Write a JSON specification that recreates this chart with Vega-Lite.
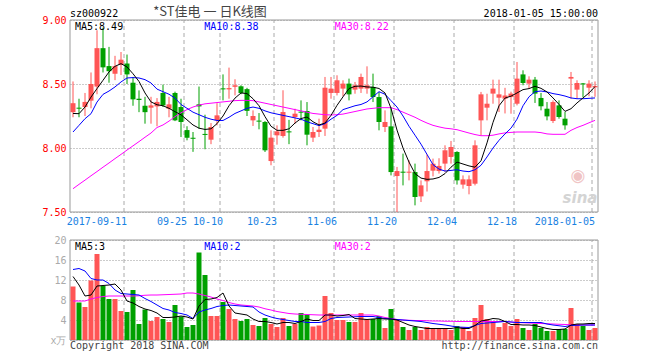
{
  "$schema": "https://vega.github.io/schema/vega-lite/v6.json",
  "width": 528,
  "height": 320,
  "autosize": {"type": "none"},
  "padding": {"left": 70, "top": 20, "right": 62, "bottom": 20},
  "background": "white",
  "config": {"view": {"stroke": null}, "font": "DejaVu Sans Mono"},
  "datasets": {
    "k": [
      {"d":"2017-08-29","o":8.28,"h":8.52,"l":8.24,"c":8.35,"v":10.7,"m5":8.27,"m10":8.125,"m30":7.682,"v5":12.7,"v10":14.1,"v30":7.8},
      {"d":"2017-08-30","o":8.315,"h":8.385,"l":8.24,"c":8.307,"v":7.5,"m5":8.268,"m10":8.177,"m30":7.716,"v5":11.0,"v10":14.3,"v30":7.8},
      {"d":"2017-08-31","o":8.32,"h":8.43,"l":8.25,"c":8.36,"v":6.6,"m5":8.32,"m10":8.229,"m30":7.749,"v5":8.8,"v10":13.8,"v30":7.8},
      {"d":"2017-09-01","o":8.37,"h":8.59,"l":8.31,"c":8.5,"v":11.9,"m5":8.398,"m10":8.268,"m30":7.783,"v5":9.0,"v10":12.3,"v30":8.2},
      {"d":"2017-09-04","o":8.48,"h":8.92,"l":8.42,"c":8.78,"v":17.2,"m5":8.464,"m10":8.359,"m30":7.816,"v5":10.8,"v10":12.0,"v30":8.5},
      {"d":"2017-09-05","o":8.78,"h":8.94,"l":8.59,"c":8.63,"v":10.8,"m5":8.529,"m10":8.419,"m30":7.85,"v5":10.9,"v10":12.0,"v30":8.7},
      {"d":"2017-09-06","o":8.64,"h":8.79,"l":8.51,"c":8.6,"v":8.2,"m5":8.594,"m10":8.445,"m30":7.883,"v5":11.0,"v10":11.3,"v30":8.8},
      {"d":"2017-09-07","o":8.58,"h":8.72,"l":8.53,"c":8.64,"v":8.2,"m5":8.638,"m10":8.477,"m30":7.917,"v5":11.2,"v10":10.0,"v30":8.8},
      {"d":"2017-09-08","o":8.65,"h":8.75,"l":8.57,"c":8.69,"v":5.8,"m5":8.659,"m10":8.516,"m30":7.95,"v5":10.0,"v10":9.3,"v30":8.8},
      {"d":"2017-09-11","o":8.66,"h":8.73,"l":8.5,"c":8.575,"v":5.6,"m5":8.633,"m10":8.547,"m30":7.984,"v5":7.8,"v10":9.2,"v30":8.8},
      {"d":"2017-09-12","o":8.51,"h":8.555,"l":8.33,"c":8.38,"v":10.0,"m5":8.58,"m10":8.55,"m30":8.017,"v5":7.4,"v10":9.1,"v30":8.8},
      {"d":"2017-09-13","o":8.385,"h":8.45,"l":8.28,"c":8.375,"v":3.2,"m5":8.52,"m10":8.547,"m30":8.05,"v5":6.7,"v10":9.0,"v30":8.85},
      {"d":"2017-09-14","o":8.33,"h":8.4,"l":8.19,"c":8.28,"v":6.1,"m5":8.43,"m10":8.534,"m30":8.084,"v5":6.2,"v10":8.3,"v30":8.95},
      {"d":"2017-09-15","o":8.315,"h":8.4,"l":8.19,"c":8.333,"v":3.8,"m5":8.36,"m10":8.508,"m30":8.117,"v5":5.9,"v10":7.7,"v30":9.0},
      {"d":"2017-09-18","o":8.325,"h":8.39,"l":8.17,"c":8.36,"v":4.6,"m5":8.338,"m10":8.46,"m30":8.16,"v5":5.4,"v10":7.0,"v30":9.0},
      {"d":"2017-09-19","o":8.43,"h":8.495,"l":8.32,"c":8.333,"v":4.2,"m5":8.33,"m10":8.44,"m30":8.18,"v5":4.5,"v10":6.3,"v30":9.05},
      {"d":"2017-09-20","o":8.307,"h":8.4,"l":8.24,"c":8.341,"v":3.6,"m5":8.31,"m10":8.42,"m30":8.21,"v5":4.5,"v10":6.0,"v30":9.1},
      {"d":"2017-09-21","o":8.43,"h":8.44,"l":8.21,"c":8.216,"v":7.0,"m5":8.284,"m10":8.39,"m30":8.245,"v5":4.6,"v10":5.5,"v30":9.15},
      {"d":"2017-09-22","o":8.32,"h":8.385,"l":8.086,"c":8.203,"v":4.7,"m5":8.26,"m10":8.34,"m30":8.275,"v5":4.8,"v10":5.3,"v30":9.2},
      {"d":"2017-09-25","o":8.14,"h":8.17,"l":8.06,"c":8.08,"v":2.6,"m5":8.22,"m10":8.31,"m30":8.3,"v5":4.6,"v10":5.0,"v30":9.4},
      {"d":"2017-09-26","o":8.08,"h":8.125,"l":7.97,"c":8.072,"v":3.0,"m5":8.18,"m10":8.28,"m30":8.32,"v5":4.2,"v10":4.3,"v30":9.4},
      {"d":"2017-09-27","o":8.341,"h":8.48,"l":8.15,"c":8.325,"v":17.5,"m5":8.155,"m10":8.26,"m30":8.335,"v5":6.8,"v10":5.6,"v30":9.2},
      {"d":"2017-09-28","o":8.11,"h":8.26,"l":7.99,"c":8.102,"v":13.0,"m5":8.145,"m10":8.24,"m30":8.345,"v5":8.1,"v10":6.0,"v30":8.9},
      {"d":"2017-09-29","o":8.065,"h":8.195,"l":8.03,"c":8.164,"v":4.8,"m5":8.15,"m10":8.225,"m30":8.35,"v5":8.2,"v10":6.3,"v30":8.6},
      {"d":"2017-10-09","o":8.216,"h":8.35,"l":8.177,"c":8.255,"v":4.8,"m5":8.19,"m10":8.215,"m30":8.355,"v5":8.5,"v10":6.7,"v30":8.2},
      {"d":"2017-10-10","o":8.466,"h":8.575,"l":8.372,"c":8.458,"v":7.6,"m5":8.25,"m10":8.215,"m30":8.36,"v5":9.4,"v10":6.9,"v30":7.9},
      {"d":"2017-10-11","o":8.458,"h":8.628,"l":8.385,"c":8.468,"v":6.2,"m5":8.33,"m10":8.24,"m30":8.365,"v5":6.8,"v10":7.0,"v30":7.5},
      {"d":"2017-10-12","o":8.478,"h":8.537,"l":8.411,"c":8.49,"v":4.2,"m5":8.39,"m10":8.27,"m30":8.37,"v5":5.4,"v10":6.9,"v30":7.2},
      {"d":"2017-10-13","o":8.482,"h":8.49,"l":8.42,"c":8.43,"v":3.8,"m5":8.43,"m10":8.29,"m30":8.372,"v5":5.2,"v10":6.8,"v30":7.0},
      {"d":"2017-10-16","o":8.46,"h":8.47,"l":8.25,"c":8.29,"v":4.2,"m5":8.425,"m10":8.31,"m30":8.372,"v5":5.0,"v10":6.7,"v30":6.9},
      {"d":"2017-10-17","o":8.216,"h":8.294,"l":8.172,"c":8.25,"v":3.0,"m5":8.385,"m10":8.32,"m30":8.37,"v5":4.2,"v10":6.6,"v30":6.8},
      {"d":"2017-10-18","o":8.214,"h":8.273,"l":8.146,"c":8.206,"v":2.8,"m5":8.33,"m10":8.31,"m30":8.36,"v5":3.7,"v10":5.6,"v30":6.6},
      {"d":"2017-10-19","o":8.203,"h":8.211,"l":7.969,"c":7.982,"v":4.4,"m5":8.245,"m10":8.29,"m30":8.35,"v5":3.7,"v10":5.0,"v30":6.25},
      {"d":"2017-10-20","o":7.898,"h":8.138,"l":7.865,"c":8.081,"v":3.2,"m5":8.17,"m10":8.275,"m30":8.34,"v5":3.5,"v10":4.6,"v30":6.0},
      {"d":"2017-10-23","o":8.099,"h":8.177,"l":8.026,"c":8.13,"v":2.6,"m5":8.138,"m10":8.265,"m30":8.33,"v5":3.2,"v10":4.3,"v30":5.7},
      {"d":"2017-10-24","o":8.094,"h":8.451,"l":8.081,"c":8.281,"v":4.4,"m5":8.138,"m10":8.255,"m30":8.32,"v5":3.5,"v10":4.1,"v30":5.5},
      {"d":"2017-10-25","o":8.13,"h":8.22,"l":8.03,"c":8.122,"v":2.8,"m5":8.15,"m10":8.245,"m30":8.31,"v5":3.5,"v10":3.9,"v30":5.3},
      {"d":"2017-10-26","o":8.242,"h":8.307,"l":8.19,"c":8.268,"v":3.2,"m5":8.195,"m10":8.235,"m30":8.3,"v5":3.3,"v10":3.7,"v30":5.2},
      {"d":"2017-10-27","o":8.284,"h":8.372,"l":8.216,"c":8.276,"v":5.4,"m5":8.23,"m10":8.225,"m30":8.29,"v5":3.7,"v10":3.7,"v30":5.15},
      {"d":"2017-10-30","o":8.289,"h":8.359,"l":8.021,"c":8.104,"v":5.1,"m5":8.242,"m10":8.205,"m30":8.28,"v5":4.2,"v10":3.5,"v30":5.1},
      {"d":"2017-10-31","o":8.081,"h":8.164,"l":8.047,"c":8.125,"v":2.7,"m5":8.205,"m10":8.19,"m30":8.27,"v5":3.9,"v10":3.5,"v30":5.05},
      {"d":"2017-11-01","o":8.125,"h":8.229,"l":8.086,"c":8.143,"v":2.9,"m5":8.18,"m10":8.175,"m30":8.265,"v5":3.9,"v10":3.5,"v30":5.0},
      {"d":"2017-11-02","o":8.151,"h":8.555,"l":8.094,"c":8.471,"v":8.8,"m5":8.195,"m10":8.19,"m30":8.26,"v5":5.0,"v10":3.7,"v30":5.0},
      {"d":"2017-11-03","o":8.43,"h":8.555,"l":8.385,"c":8.464,"v":5.4,"m5":8.255,"m10":8.225,"m30":8.258,"v5":5.0,"v10":4.3,"v30":5.0},
      {"d":"2017-11-06","o":8.43,"h":8.568,"l":8.411,"c":8.529,"v":4.0,"m5":8.333,"m10":8.255,"m30":8.26,"v5":4.8,"v10":4.5,"v30":5.0},
      {"d":"2017-11-07","o":8.464,"h":8.529,"l":8.404,"c":8.503,"v":4.0,"m5":8.4,"m10":8.3,"m30":8.265,"v5":4.9,"v10":4.55,"v30":5.0},
      {"d":"2017-11-08","o":8.503,"h":8.542,"l":8.372,"c":8.419,"v":3.6,"m5":8.464,"m10":8.315,"m30":8.275,"v5":5.1,"v10":4.6,"v30":5.0},
      {"d":"2017-11-09","o":8.456,"h":8.516,"l":8.424,"c":8.49,"v":3.6,"m5":8.482,"m10":8.33,"m30":8.285,"v5":4.3,"v10":4.65,"v30":5.0},
      {"d":"2017-11-10","o":8.464,"h":8.581,"l":8.43,"c":8.555,"v":5.4,"m5":8.484,"m10":8.34,"m30":8.295,"v5":4.2,"v10":4.7,"v30":5.0},
      {"d":"2017-11-13","o":8.464,"h":8.638,"l":8.424,"c":8.49,"v":4.2,"m5":8.477,"m10":8.36,"m30":8.305,"v5":4.1,"v10":4.7,"v30":5.0},
      {"d":"2017-11-14","o":8.477,"h":8.581,"l":8.359,"c":8.398,"v":4.2,"m5":8.475,"m10":8.4,"m30":8.31,"v5":4.2,"v10":4.7,"v30":5.0},
      {"d":"2017-11-15","o":8.398,"h":8.438,"l":8.138,"c":8.203,"v":4.8,"m5":8.465,"m10":8.44,"m30":8.315,"v5":4.3,"v10":4.5,"v30":4.8},
      {"d":"2017-11-16","o":8.164,"h":8.294,"l":8.125,"c":8.203,"v":2.4,"m5":8.43,"m10":8.42,"m30":8.315,"v5":4.2,"v10":4.3,"v30":4.5},
      {"d":"2017-11-17","o":8.169,"h":8.32,"l":7.786,"c":7.812,"v":6.2,"m5":8.31,"m10":8.37,"m30":8.315,"v5":4.2,"v10":4.2,"v30":4.3},
      {"d":"2017-11-20","o":7.781,"h":7.852,"l":7.5,"c":7.82,"v":4.2,"m5":8.14,"m10":8.32,"m30":8.3,"v5":4.0,"v10":4.1,"v30":4.1},
      {"d":"2017-11-21","o":7.815,"h":7.956,"l":7.708,"c":7.807,"v":2.6,"m5":8.0,"m10":8.25,"m30":8.28,"v5":3.5,"v10":4.0,"v30":4.0},
      {"d":"2017-11-22","o":7.807,"h":7.904,"l":7.747,"c":7.815,"v":2.0,"m5":7.89,"m10":8.17,"m30":8.26,"v5":3.0,"v10":3.9,"v30":3.95},
      {"d":"2017-11-23","o":7.812,"h":7.878,"l":7.552,"c":7.617,"v":2.6,"m5":7.8,"m10":8.1,"m30":8.24,"v5":2.7,"v10":3.8,"v30":3.9},
      {"d":"2017-11-24","o":7.622,"h":7.747,"l":7.578,"c":7.708,"v":2.0,"m5":7.765,"m10":8.03,"m30":8.216,"v5":2.5,"v10":3.7,"v30":3.9},
      {"d":"2017-11-27","o":7.74,"h":7.95,"l":7.66,"c":7.82,"v":2.6,"m5":7.755,"m10":7.95,"m30":8.195,"v5":2.3,"v10":3.5,"v30":3.85},
      {"d":"2017-11-28","o":7.823,"h":7.917,"l":7.778,"c":7.877,"v":2.2,"m5":7.758,"m10":7.87,"m30":8.177,"v5":2.3,"v10":3.3,"v30":3.8},
      {"d":"2017-11-29","o":7.82,"h":7.92,"l":7.8,"c":7.86,"v":2.2,"m5":7.77,"m10":7.835,"m30":8.165,"v5":2.3,"v10":3.15,"v30":3.8},
      {"d":"2017-11-30","o":7.878,"h":8.021,"l":7.813,"c":7.982,"v":2.2,"m5":7.8,"m10":7.82,"m30":8.155,"v5":2.3,"v10":3.0,"v30":3.75},
      {"d":"2017-12-01","o":7.93,"h":8.055,"l":7.878,"c":8.008,"v":2.0,"m5":7.85,"m10":7.825,"m30":8.15,"v5":2.3,"v10":2.8,"v30":3.75},
      {"d":"2017-12-04","o":7.969,"h":7.975,"l":7.714,"c":7.747,"v":2.8,"m5":7.89,"m10":7.83,"m30":8.143,"v5":2.5,"v10":2.6,"v30":3.7},
      {"d":"2017-12-05","o":7.714,"h":7.786,"l":7.682,"c":7.755,"v":2.6,"m5":7.875,"m10":7.82,"m30":8.13,"v5":2.3,"v10":2.55,"v30":3.7},
      {"d":"2017-12-06","o":7.703,"h":7.786,"l":7.638,"c":7.755,"v":1.8,"m5":7.86,"m10":7.815,"m30":8.117,"v5":2.3,"v10":2.5,"v30":3.7},
      {"d":"2017-12-07","o":7.721,"h":8.06,"l":7.708,"c":8.021,"v":4.4,"m5":7.85,"m10":7.83,"m30":8.105,"v5":2.9,"v10":2.9,"v30":3.7},
      {"d":"2017-12-08","o":8.216,"h":8.438,"l":8.099,"c":8.419,"v":7.0,"m5":7.9,"m10":7.865,"m30":8.096,"v5":3.8,"v10":3.3,"v30":3.7},
      {"d":"2017-12-11","o":8.315,"h":8.424,"l":8.216,"c":8.346,"v":4.2,"m5":8.04,"m10":7.93,"m30":8.096,"v5":4.0,"v10":3.4,"v30":3.7},
      {"d":"2017-12-12","o":8.425,"h":8.534,"l":8.346,"c":8.464,"v":3.8,"m5":8.2,"m10":8.0,"m30":8.1,"v5":4.3,"v10":3.5,"v30":3.7},
      {"d":"2017-12-13","o":8.393,"h":8.534,"l":8.281,"c":8.419,"v":2.6,"m5":8.33,"m10":8.06,"m30":8.11,"v5":4.2,"v10":3.6,"v30":3.7},
      {"d":"2017-12-14","o":8.385,"h":8.47,"l":8.27,"c":8.41,"v":3.4,"m5":8.39,"m10":8.11,"m30":8.118,"v5":3.7,"v10":3.7,"v30":3.7},
      {"d":"2017-12-15","o":8.398,"h":8.44,"l":8.268,"c":8.425,"v":2.8,"m5":8.405,"m10":8.155,"m30":8.122,"v5":3.1,"v10":3.6,"v30":3.6},
      {"d":"2017-12-18","o":8.346,"h":8.672,"l":8.333,"c":8.542,"v":4.2,"m5":8.43,"m10":8.225,"m30":8.125,"v5":3.1,"v10":3.5,"v30":3.5},
      {"d":"2017-12-19","o":8.575,"h":8.607,"l":8.49,"c":8.508,"v":2.4,"m5":8.456,"m10":8.33,"m30":8.125,"v5":3.0,"v10":3.5,"v30":3.45},
      {"d":"2017-12-20","o":8.503,"h":8.56,"l":8.464,"c":8.534,"v":2.0,"m5":8.464,"m10":8.4,"m30":8.125,"v5":3.0,"v10":3.5,"v30":3.4},
      {"d":"2017-12-21","o":8.534,"h":8.555,"l":8.352,"c":8.425,"v":3.2,"m5":8.482,"m10":8.44,"m30":8.125,"v5":2.9,"v10":3.5,"v30":3.35},
      {"d":"2017-12-22","o":8.391,"h":8.43,"l":8.294,"c":8.326,"v":2.4,"m5":8.466,"m10":8.445,"m30":8.12,"v5":2.6,"v10":3.5,"v30":3.3},
      {"d":"2017-12-25","o":8.307,"h":8.359,"l":8.216,"c":8.247,"v":1.8,"m5":8.438,"m10":8.438,"m30":8.11,"v5":2.3,"v10":3.2,"v30":3.25},
      {"d":"2017-12-26","o":8.211,"h":8.372,"l":8.195,"c":8.359,"v":1.8,"m5":8.391,"m10":8.425,"m30":8.107,"v5":2.1,"v10":3.0,"v30":3.2},
      {"d":"2017-12-27","o":8.333,"h":8.372,"l":8.229,"c":8.242,"v":2.2,"m5":8.341,"m10":8.417,"m30":8.107,"v5":2.1,"v10":2.85,"v30":3.15},
      {"d":"2017-12-28","o":8.229,"h":8.281,"l":8.143,"c":8.177,"v":2.2,"m5":8.286,"m10":8.406,"m30":8.107,"v5":2.2,"v10":2.7,"v30":3.1},
      {"d":"2017-12-29","o":8.542,"h":8.594,"l":8.385,"c":8.555,"v":6.4,"m5":8.307,"m10":8.391,"m30":8.138,"v5":3.0,"v10":2.9,"v30":3.05},
      {"d":"2018-01-02","o":8.456,"h":8.529,"l":8.385,"c":8.508,"v":3.2,"m5":8.352,"m10":8.385,"m30":8.16,"v5":3.2,"v10":2.95,"v30":3.0},
      {"d":"2018-01-03","o":8.505,"h":8.508,"l":8.398,"c":8.497,"v":2.8,"m5":8.391,"m10":8.385,"m30":8.177,"v5":3.2,"v10":3.0,"v30":3.0},
      {"d":"2018-01-04","o":8.471,"h":8.529,"l":8.404,"c":8.503,"v":2.0,"m5":8.43,"m10":8.388,"m30":8.197,"v5":3.3,"v10":3.0,"v30":3.0},
      {"d":"2018-01-05","o":8.474,"h":8.52,"l":8.4,"c":8.484,"v":2.4,"m5":8.48,"m10":8.391,"m30":8.216,"v5":3.3,"v10":3.0,"v30":3.0}
    ],
    "g": [
      {"d":"2017-09-11"},{"d":"2017-09-25"},{"d":"2017-10-10"},{"d":"2017-10-23"},{"d":"2017-11-06"},
      {"d":"2017-11-20"},{"d":"2017-12-04"},{"d":"2017-12-18"},{"d":"2018-01-05"}
    ],
    "one": [{"n": 1}]
  },
  "layer": [
    {
      "layer": [
        {
          "data": {"name": "g"},
          "mark": {"type": "rule", "color": "#aaaaaa", "strokeDash": [4, 3], "strokeWidth": 1},
          "encoding": {
            "x": {"field": "d", "type": "ordinal", "bandPosition": 0},
            "y": {"datum": 7.5, "type": "quantitative"},
            "y2": {"datum": 9.0}
          }
        },
        {
          "data": {"name": "one"},
          "mark": {"type": "rect", "fill": null, "fillOpacity": 0, "stroke": "#999999", "strokeWidth": 1},
          "encoding": {"y": {"datum": 7.5, "type": "quantitative"}, "y2": {"datum": 9.0}}
        },
        {
          "data": {"name": "one"},
          "mark": {"type": "text", "text": "◉", "font": "DejaVu Sans", "fontSize": 17, "color": "#f0c4c4", "align": "center", "baseline": "middle", "dx": 1, "dy": -36},
          "encoding": {"x": {"datum": "2018-01-02", "type": "ordinal"}, "y": {"datum": 7.5, "type": "quantitative"}}
        },
        {
          "data": {"name": "one"},
          "mark": {"type": "text", "text": "sina", "font": "DejaVu Sans", "fontSize": 15, "fontWeight": "bold", "fontStyle": "italic", "color": "#d4d4d4", "align": "center", "baseline": "alphabetic", "dx": 3, "dy": -9},
          "encoding": {"x": {"datum": "2018-01-02", "type": "ordinal"}, "y": {"datum": 7.5, "type": "quantitative"}}
        },
        {
          "data": {"name": "k"},
          "mark": {"type": "rule", "strokeWidth": 1},
          "encoding": {
            "x": {"field": "d", "type": "ordinal"},
            "y": {"field": "l", "type": "quantitative"},
            "y2": {"field": "h"},
            "color": {"condition": {"test": "datum.c >= datum.o", "value": "#ff5555"}, "value": "#00a000"}
          }
        },
        {
          "data": {"name": "k"},
          "mark": {"type": "bar", "width": 5},
          "encoding": {
            "x": {"field": "d", "type": "ordinal",
                  "scale": {"type": "band", "paddingInner": 0, "paddingOuter": 0},
                  "axis": {"orient": "bottom", "offset": -124, "values": ["2017-09-11","2017-09-25","2017-10-10","2017-10-23","2017-11-06","2017-11-20","2017-12-04","2017-12-18","2018-01-05"],
                           "labelExpr": "datum.value == '2017-09-11' || datum.value == '2018-01-05' ? datum.value : slice(datum.value, 5)",
                           "bandPosition": 0, "labelAngle": 0, "labelColor": "#1a82e2", "labelFont": "DejaVu Sans Mono", "labelFontSize": 10,
                           "labelPadding": 0, "ticks": false, "tickSize": 0, "domain": false, "grid": false, "title": null, "labelBaseline": "top", "labelOverlap": false}},
            "y": {"field": "o", "type": "quantitative",
                  "scale": {"domain": [7.5, 9.0], "range": [192, 0], "zero": false, "nice": false},
                  "axis": {"orient": "left", "values": [7.5, 8, 8.5, 9], "format": ".2f", "labelColor": "#ff0000", "labelFont": "DejaVu Sans Mono", "labelFontSize": 10,
                           "labelPadding": 4, "ticks": false, "domain": false, "grid": true, "gridColor": "#999999", "gridDash": [1, 2], "title": null, "labelBaseline": "middle"}},
            "y2": {"field": "c"},
            "color": {"condition": {"test": "datum.c >= datum.o", "value": "#ff5555"}, "value": "#00a000"}
          }
        },
        {
          "data": {"name": "k"},
          "mark": {"type": "line", "color": "#ff00ff", "strokeWidth": 1},
          "encoding": {"x": {"field": "d", "type": "ordinal"}, "y": {"field": "m30", "type": "quantitative"}}
        },
        {
          "data": {"name": "k"},
          "mark": {"type": "line", "color": "#0000ff", "strokeWidth": 1},
          "encoding": {"x": {"field": "d", "type": "ordinal"}, "y": {"field": "m10", "type": "quantitative"}}
        },
        {
          "data": {"name": "k"},
          "mark": {"type": "line", "color": "#000000", "strokeWidth": 1},
          "encoding": {"x": {"field": "d", "type": "ordinal"}, "y": {"field": "m5", "type": "quantitative"}}
        },
        {
          "data": {"name": "one"},
          "mark": {"type": "text", "text": "sz000922", "fontSize": 10, "color": "#000000", "align": "left", "baseline": "alphabetic", "dx": -3, "dy": -3.5},
          "encoding": {"x": {"datum": "2017-08-29", "type": "ordinal"}, "y": {"datum": 9.0, "type": "quantitative"}}
        },
        {
          "data": {"name": "one"},
          "mark": {"type": "text", "text": "*ST佳电 一 日K线图", "font": "Noto Sans CJK SC", "fontSize": 13, "color": "#444444", "align": "center", "baseline": "middle", "dx": -1, "dy": -8},
          "encoding": {"x": {"datum": "2017-09-29", "type": "ordinal"}, "y": {"datum": 9.0, "type": "quantitative"}}
        },
        {
          "data": {"name": "one"},
          "mark": {"type": "text", "text": "2018-01-05 15:00:00", "fontSize": 10, "color": "#000000", "align": "right", "baseline": "alphabetic", "dx": 3, "dy": -3.5},
          "encoding": {"x": {"datum": "2018-01-05", "type": "ordinal"}, "y": {"datum": 9.0, "type": "quantitative"}}
        },
        {
          "data": {"name": "one"},
          "mark": {"type": "text", "text": "MA5:8.49", "fontSize": 10, "color": "#000000", "align": "left", "baseline": "alphabetic", "dx": 2, "dy": 9.5},
          "encoding": {"x": {"datum": "2017-08-29", "type": "ordinal"}, "y": {"datum": 9.0, "type": "quantitative"}}
        },
        {
          "data": {"name": "one"},
          "mark": {"type": "text", "text": "MA10:8.38", "fontSize": 10, "color": "#0000ff", "align": "left", "baseline": "alphabetic", "dx": -0.7, "dy": 9.5},
          "encoding": {"x": {"datum": "2017-09-28", "type": "ordinal"}, "y": {"datum": 9.0, "type": "quantitative"}}
        },
        {
          "data": {"name": "one"},
          "mark": {"type": "text", "text": "MA30:8.22", "fontSize": 10, "color": "#ff00ff", "align": "left", "baseline": "alphabetic", "dx": -2.3, "dy": 9.5},
          "encoding": {"x": {"datum": "2017-11-06", "type": "ordinal"}, "y": {"datum": 9.0, "type": "quantitative"}}
        }
      ]
    },
    {
      "layer": [
        {
          "data": {"name": "g"},
          "mark": {"type": "rule", "color": "#aaaaaa", "strokeDash": [4, 3], "strokeWidth": 1},
          "encoding": {
            "x": {"field": "d", "type": "ordinal", "bandPosition": 0},
            "y": {"datum": 0, "type": "quantitative"},
            "y2": {"datum": 20}
          }
        },
        {
          "data": {"name": "one"},
          "mark": {"type": "rect", "fill": null, "fillOpacity": 0, "stroke": "#999999", "strokeWidth": 1},
          "encoding": {"y": {"datum": 0, "type": "quantitative"}, "y2": {"datum": 20}}
        },
        {
          "data": {"name": "k"},
          "mark": {"type": "bar", "width": 5},
          "encoding": {
            "x": {"field": "d", "type": "ordinal"},
            "y": {"field": "v", "type": "quantitative",
                  "scale": {"domain": [0, 20], "range": [320, 220], "zero": true, "nice": false},
                  "axis": {"orient": "left", "values": [0, 4, 8, 12, 16, 20], "labelExpr": "datum.value == 0 ? 'x万' : datum.label",
                           "labelColor": "#aaaaaa", "labelFont": "DejaVu Sans Mono", "labelFontSize": 10, "labelPadding": 4, "ticks": false, "domain": false,
                           "grid": true, "gridColor": "#999999", "gridDash": [1, 2], "title": null, "labelBaseline": "middle"}},
            "color": {"condition": {"test": "datum.c >= datum.o", "value": "#ff5555"}, "value": "#00a000"}
          }
        },
        {
          "data": {"name": "k"},
          "mark": {"type": "line", "color": "#ff00ff", "strokeWidth": 1},
          "encoding": {"x": {"field": "d", "type": "ordinal"}, "y": {"field": "v30", "type": "quantitative"}}
        },
        {
          "data": {"name": "k"},
          "mark": {"type": "line", "color": "#0000ff", "strokeWidth": 1},
          "encoding": {"x": {"field": "d", "type": "ordinal"}, "y": {"field": "v10", "type": "quantitative"}}
        },
        {
          "data": {"name": "k"},
          "mark": {"type": "line", "color": "#000000", "strokeWidth": 1},
          "encoding": {"x": {"field": "d", "type": "ordinal"}, "y": {"field": "v5", "type": "quantitative"}}
        },
        {
          "data": {"name": "one"},
          "mark": {"type": "text", "text": "MA5:3", "fontSize": 10, "color": "#000000", "align": "left", "baseline": "alphabetic", "dx": 2, "dy": 10},
          "encoding": {"x": {"datum": "2017-08-29", "type": "ordinal"}, "y": {"datum": 20, "type": "quantitative"}}
        },
        {
          "data": {"name": "one"},
          "mark": {"type": "text", "text": "MA10:2", "fontSize": 10, "color": "#0000ff", "align": "left", "baseline": "alphabetic", "dx": -0.7, "dy": 10},
          "encoding": {"x": {"datum": "2017-09-28", "type": "ordinal"}, "y": {"datum": 20, "type": "quantitative"}}
        },
        {
          "data": {"name": "one"},
          "mark": {"type": "text", "text": "MA30:2", "fontSize": 10, "color": "#ff00ff", "align": "left", "baseline": "alphabetic", "dx": -2.3, "dy": 10},
          "encoding": {"x": {"datum": "2017-11-06", "type": "ordinal"}, "y": {"datum": 20, "type": "quantitative"}}
        },
        {
          "data": {"name": "one"},
          "mark": {"type": "text", "text": "Copyright 2018 SINA.COM", "fontSize": 10, "color": "#444444", "align": "left", "baseline": "alphabetic", "dx": -3, "dy": 9},
          "encoding": {"x": {"datum": "2017-08-29", "type": "ordinal"}, "y": {"datum": 0, "type": "quantitative"}}
        },
        {
          "data": {"name": "one"},
          "mark": {"type": "text", "text": "http://finance.sina.com.cn", "fontSize": 10, "color": "#444444", "align": "right", "baseline": "alphabetic", "dx": 3, "dy": 9},
          "encoding": {"x": {"datum": "2018-01-05", "type": "ordinal"}, "y": {"datum": 0, "type": "quantitative"}}
        }
      ]
    }
  ],
  "resolve": {"scale": {"y": "independent"}, "axis": {"y": "independent"}}
}
